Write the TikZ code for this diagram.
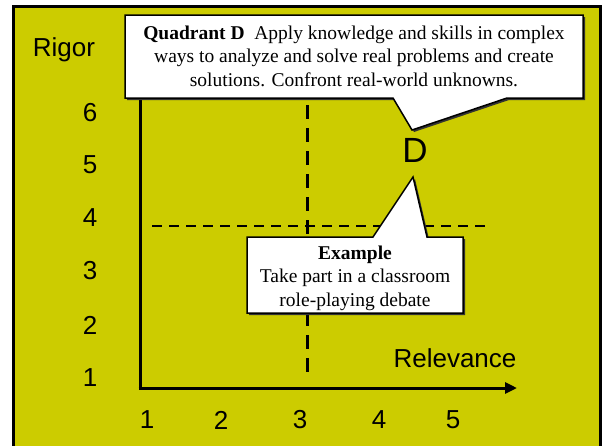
\documentclass[tikz,border=0pt]{standalone}
\usepackage{fontspec}
\setmainfont{Liberation Serif}
\setsansfont{Liberation Sans}
\usetikzlibrary{arrows.meta}
\definecolor{olivey}{HTML}{CCCC00}
\tikzset{
  axisline/.style={line width=3pt},
  vdashline/.style={line width=3pt, dash pattern=on 14pt off 9pt},
  hdashline/.style={line width=2.5pt, dash pattern=on 10pt off 7pt},
  callout/.style={fill=white, draw=black, line width=1.5pt},
  calloutshadow/.style={fill=black!80},
  lab/.style={font=\sffamily\fontsize{26}{30}\selectfont, inner sep=0pt},
  ctext/.style={font=\fontsize{19.5}{23.5}\selectfont, align=center, inner sep=0pt}
}
\begin{document}
\begin{tikzpicture}[x=1pt, y=-1pt]
\useasboundingbox (0,0) rectangle (604,445);
\begin{scope}
\clip (0,0) rectangle (604,445);
\fill[white] (0,0) rectangle (604,445);
\draw[fill=olivey, line width=3pt] (13,6) rectangle (600,460);
\end{scope}
% axes
\coordinate (ytop) at (140,98);
\coordinate (origin) at (140,388);
\coordinate (xend) at (517,388);
\draw[axisline] (ytop) -- (origin);
\draw[axisline, -{Triangle[length=12pt, width=11pt]}] ([xshift=-1.5pt]origin) -- (xend);
% dashed quadrant lines
\coordinate (vtop) at (307,105);
\coordinate (vbot) at (307,378);
\coordinate (hleft) at (152,226);
\coordinate (hright) at (492,226);
\draw[vdashline] (vtop) -- (vbot);
\draw[hdashline] (hleft) -- (hright);
% labels
\node[lab] (rigor) at (64,50) {Rigor};
\node[lab] (y6) at (90,113) {6};
\node[lab] (y5) at (90,165) {5};
\node[lab] (y4) at (90,218) {4};
\node[lab] (y3) at (90,271) {3};
\node[lab] (y2) at (90,325) {2};
\node[lab] (y1) at (90,378) {1};
\node[lab] (x1) at (147,420) {1};
\node[lab] (x2) at (221,420) {2};
\node[lab] (x3) at (300,420) {3};
\node[lab] (x4) at (379,420) {4};
\node[lab] (x5) at (453,420) {5};
\node[lab] (relevance) at (455,358) {Relevance};
\node[lab, font=\sffamily\fontsize{35}{40}\selectfont] (dlabel) at (415,150) {D};
% top callout
\begin{scope}[shift={(2,2)}]
\fill[calloutshadow] (125,15) -- (583,15) -- (583,98) -- (507,98) -- (412,130) -- (393,98) -- (125,98) -- cycle;
\end{scope}
\draw[callout] (125,15) -- (583,15) -- (583,98) -- (507,98) -- (412,130) -- (393,98) -- (125,98) -- cycle;
\node[ctext] (quadd) at (354,56) {\textbf{Quadrant D}\ \ Apply knowledge and skills in complex\\ways to analyze and solve real problems and create\\solutions. Confront real-world unknowns.};
% bottom callout
\begin{scope}[shift={(2,2)}]
\fill[calloutshadow] (247,237) -- (373,237) -- (413,177) -- (427,237) -- (463,237) -- (463,313) -- (247,313) -- cycle;
\end{scope}
\draw[callout] (247,237) -- (373,237) -- (413,177) -- (427,237) -- (463,237) -- (463,313) -- (247,313) -- cycle;
\node[ctext] (example) at (355,278) {\textbf{Example}\\Take part in a classroom\\role-playing debate};
\end{tikzpicture}
\end{document}
